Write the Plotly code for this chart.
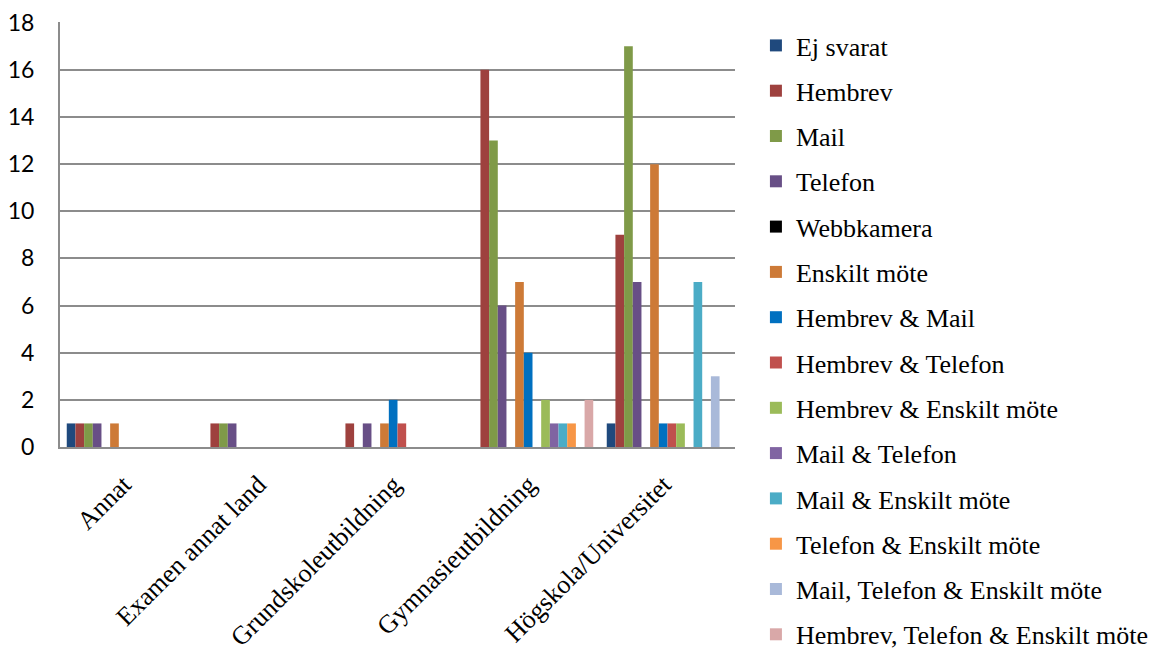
import plotly.graph_objects as go

categories = ["Annat", "Examen annat land", "Grundskoleutbildning", "Gymnasieutbildning", "Högskola/Universitet"]

series_names = [
    "Ej svarat", "Hembrev", "Mail", "Telefon", "Webbkamera", "Enskilt möte",
    "Hembrev & Mail", "Hembrev & Telefon", "Hembrev & Enskilt möte",
    "Mail & Telefon", "Mail & Enskilt möte", "Telefon & Enskilt möte",
    "Mail, Telefon & Enskilt möte", "Hembrev, Telefon & Enskilt möte",
]

ej_svarat = [1, 0, 0, 0, 1]
hembrev = [1, 1, 1, 16, 9]
mail = [1, 1, 0, 13, 17]
telefon = [1, 1, 1, 6, 7]
webbkamera = [0, 0, 0, 0, 0]
enskilt_mote = [1, 0, 1, 7, 12]
hembrev_mail = [0, 0, 2, 4, 1]
hembrev_telefon = [0, 0, 1, 0, 1]
hembrev_enskilt = [0, 0, 0, 2, 1]
mail_telefon = [0, 0, 0, 1, 0]
mail_enskilt = [0, 0, 0, 1, 7]
telefon_enskilt = [0, 0, 0, 1, 0]
mail_telefon_enskilt = [0, 0, 0, 0, 3]
hembrev_telefon_enskilt = [0, 0, 0, 2, 0]

series_values = [
    ej_svarat, hembrev, mail, telefon, webbkamera, enskilt_mote,
    hembrev_mail, hembrev_telefon, hembrev_enskilt, mail_telefon,
    mail_enskilt, telefon_enskilt, mail_telefon_enskilt, hembrev_telefon_enskilt,
]

colors = [
    "#1F497D", "#9E413E", "#7F9A48", "#684F86", "#000000", "#CD7A37",
    "#0070C0", "#C0504D", "#9BBB59", "#8064A2", "#4BACC6", "#F79646",
    "#A9B9D9", "#D9A8A8",
]

y_ticks = [0, 2, 4, 6, 8, 10, 12, 14, 16, 18]

fig = go.Figure()
for i, (name, vals, col) in enumerate(zip(series_names, series_values, colors)):
    fig.add_trace(go.Bar(
        x=categories, y=vals, name=name,
        marker=dict(color=col, line=dict(width=0)),
        legendgroup=f"g{i}",
    ))

fig.update_layout(
    width=1168, height=650,
    barmode="group", bargap=0.1, bargroupgap=0,
    plot_bgcolor="white", paper_bgcolor="white",
    margin=dict(l=52, r=441, t=14, b=211),
    font=dict(family="Liberation Serif", color="black"),
    legend=dict(
        x=1.031, y=0.969, xanchor="left", yanchor="top",
        font=dict(family="Liberation Serif", size=26, color="black"),
        traceorder="grouped", tracegroupgap=8.5,
        itemsizing="constant", maxheight=650,
    ),
    xaxis=dict(
        tickangle=-45, tickfont=dict(family="Liberation Serif", size=26),
        showline=True, linecolor="#8C8C8C", linewidth=2,
        showgrid=False, ticks="", automargin=False,
        ticklabelstandoff=10, ticklabelshift=-4,
    ),
    yaxis=dict(
        range=[0, 18.03], tickvals=y_ticks,
        tickfont=dict(family="Lato", size=23),
        showgrid=True, gridcolor="#8C8C8C", gridwidth=1.5,
        showline=True, linecolor="#8C8C8C", linewidth=2,
        zeroline=False, ticks="", ticklabelstandoff=19, automargin=False,
        ticklabeloverflow="allow",
    ),
)

fig.write_html("out.html")
